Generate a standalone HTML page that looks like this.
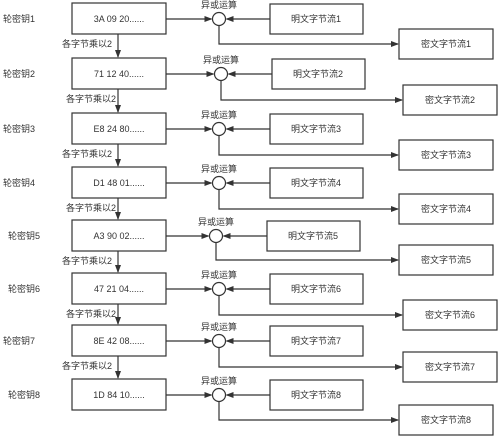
<!DOCTYPE html>
<html><head><meta charset="utf-8"><style>
body{margin:0;background:#fff}
svg text{font-family:"Liberation Sans","Noto Sans CJK SC",sans-serif;font-size:9px;fill:#333}
</style></head><body>
<svg width="500" height="438" viewBox="0 0 500 438" xmlns="http://www.w3.org/2000/svg">
<defs><marker id="a" markerWidth="8" markerHeight="6" refX="7" refY="3" orient="auto" markerUnits="userSpaceOnUse"><path d="M0,0L8,3L0,6z" fill="#333"/></marker></defs>
<g stroke="#333" stroke-width="1.2" fill="none" id="g"></g>
</svg>
<script>
const rows=[[3,29,"3A 09 20......","",0],[58,85,"71 12 40......",2,4],[113,140,"E8 24 80......",0,0],[167,194,"D1 48 01......",0,0],[220,245,"A3 90 02......",-3,0],[273,300,"47 21 04......",0,4],[325,352,"8E 42 08......",0,4],[379,405,"1D 84 10......",0,0]];
let s="";
const g=document.getElementById("g");
rows.forEach((r,i)=>{
 const [ky,cy,t,dx,cx]=r;const n=i+1;const d=dx||0;const c=cx||0;
 const my=ky+16, ccy=cy+15;
 const circ=219+d;
 s+=`<rect x="72" y="${ky}" width="94" height="31"/>`;
 s+=`<rect x="${270+d}" y="${ky+1}" width="93" height="30"/>`;
 s+=`<rect x="${399+c}" y="${cy}" width="94" height="30"/>`;
 s+=`<circle cx="${circ}" cy="${my}" r="6.5"/>`;
 s+=`<line x1="166" y1="${my}" x2="${circ-7.5}" y2="${my}" marker-end="url(#a)"/>`;
 s+=`<line x1="${270+d}" y1="${my}" x2="${circ+7.5}" y2="${my}" marker-end="url(#a)"/>`;
 s+=`<polyline points="${circ},${my+6.5} ${circ},${ccy} ${398+c},${ccy}" marker-end="url(#a)"/>`;
 if(i<7){s+=`<line x1="118" y1="${ky+31}" x2="118" y2="${rows[i+1][0]-1}" marker-end="url(#a)"/>`;
  s+=`<text x="${i%2?66:62}" y="${ky+44}" stroke="none">各字节乘以2</text>`;}
 s+=`<text x="${i==4||i==5||i==7?8:3}" y="${my+3}" stroke="none">轮密钥${n}</text>`;
 s+=`<text x="119" y="${my+3}" text-anchor="middle" stroke="none">${t}</text>`;
 s+=`<text x="${circ}" y="${ky+5}" text-anchor="middle" stroke="none">异或运算</text>`;
 s+=`<text x="${316+d}" y="${my+3}" text-anchor="middle" stroke="none">明文字节流${n}</text>`;
 s+=`<text x="${446+c}" y="${ccy+3}" text-anchor="middle" stroke="none">密文字节流${n}</text>`;
});
g.innerHTML=s;
</script>
</body></html>
